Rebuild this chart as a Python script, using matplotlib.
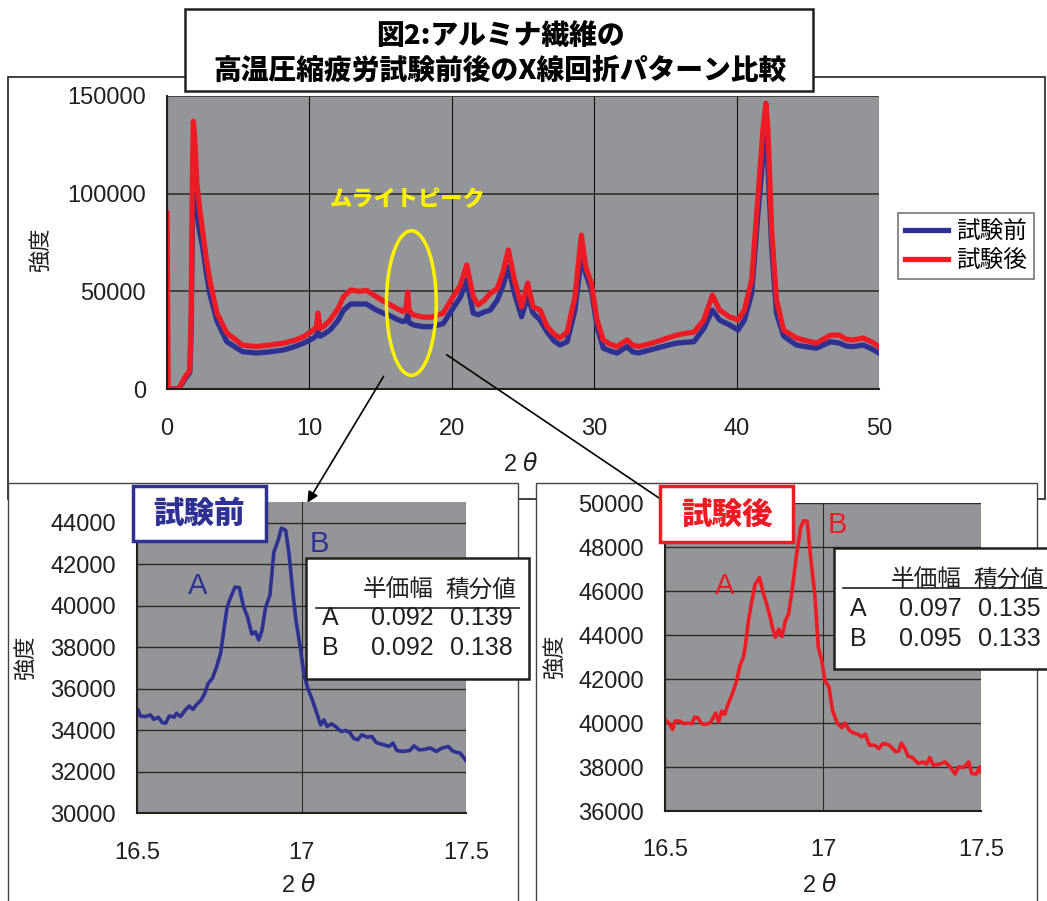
import numpy as np
import matplotlib.pyplot as plt
from matplotlib.patches import Rectangle, Ellipse, FancyArrowPatch
from matplotlib.lines import Line2D

plt.rcParams['font.family'] = ['Liberation Sans', 'Noto Sans CJK JP', 'DejaVu Sans']
plt.rcParams['mathtext.fontset'] = 'dejavusans'

# ---- data: full scan 0-50 deg ----
tt = [0, 0.08, 0.8, 1.0, 1.3, 1.6, 1.7, 1.8, 1.85, 1.95, 2.1, 2.3, 2.5, 2.75, 3.0, 3.5,
      4.2, 5.3, 6.3, 7.2, 8.2, 9.0, 9.6, 10.3, 10.5, 10.6, 10.75, 11.0, 11.45, 12.0,
      12.4, 12.9, 13.5, 14.0, 14.7, 15.2, 15.7, 16.2, 16.6, 16.8, 16.9, 17.0, 17.3,
      18.0, 18.6, 19.4, 20.1, 20.6, 21.05, 21.5, 21.85, 22.3, 22.7, 23.2, 23.6, 23.97,
      24.4, 24.9, 25.33, 25.7, 26.2, 26.7, 27.2, 27.6, 28.1, 28.65, 29.1, 29.4, 29.8,
      30.2, 30.64, 31.1, 31.6, 32.3, 32.7, 33.1, 33.8, 34.4, 35.1, 35.8, 36.4, 37.0,
      37.7, 38.3, 38.8, 39.5, 40.1, 40.55, 41.06, 41.5, 41.85, 42.06, 42.2, 42.46,
      42.8, 43.3, 44.2, 45.0, 45.6, 46.1, 46.6, 47.2, 47.7, 48.2, 48.9, 49.5, 50]
before = [0, 0, 0, 2000, 5500, 8500, 30000, 95000, 112000, 105000, 90000, 80000, 72900,
          60000, 49000, 35000, 24200, 19100, 18400, 19000, 20000, 21800, 23500, 26100,
          27500, 29300, 27000, 28000, 30200, 35000, 40400, 43500, 43500, 43500, 40400,
          38800, 37400, 35500, 34500, 35500, 37900, 34000, 32800, 31900, 31900, 33500,
          41500, 47000, 55800, 38900, 38000, 39500, 40400, 45600, 53000, 62600, 49000,
          37000, 47300, 38900, 35300, 29100, 24500, 22500, 24200, 40400, 67700, 59300,
          50700, 31900, 20900, 19500, 18400, 21700, 19000, 18400, 19800, 20900, 22300,
          23500, 23900, 24200, 31000, 40400, 35300, 32800, 30200, 35300, 49000, 90000,
          118900, 129200, 115000, 72900, 38900, 27100, 22500, 21500, 20900, 22500, 24200,
          23500, 22000, 21700, 22500, 20500, 18400]
after = [90000, 0, 0, 2500, 6500, 9500, 40000, 120000, 137000, 128000, 105000, 92000,
         81000, 67000, 56000, 39000, 28700, 22500, 21700, 22500, 23500, 25000, 26800,
         30200, 32000, 38900, 31000, 32000, 35300, 41000, 47300, 50700, 50000, 50500,
         47300, 45000, 43000, 41000, 39600, 42000, 49700, 40000, 37900, 36800, 36800,
         38900, 47300, 53000, 63500, 47300, 43000, 45500, 49000, 51500, 60000, 71200,
         55800, 42100, 54200, 42100, 40400, 31900, 28000, 26100, 29100, 47300, 78800,
         62600, 54200, 35300, 25100, 23000, 21700, 25100, 22500, 21700, 23000, 24200,
         26000, 27600, 28500, 29100, 35300, 48100, 40400, 36900, 35500, 40400, 55800,
         98500, 132600, 146300, 132600, 81400, 45600, 30200, 26100, 24500, 23500, 25500,
         27600, 27600, 25500, 25100, 26100, 24000, 21700]

# ---- data: zoom 16.5-17.5 deg ----
tt_b = [16.503, 16.510, 16.526, 16.541, 16.551, 16.565, 16.577, 16.587, 16.598, 16.613,
        16.620, 16.632, 16.647, 16.659, 16.670, 16.680, 16.695, 16.706, 16.716, 16.729,
        16.742, 16.754, 16.764, 16.774, 16.783, 16.798, 16.811, 16.824, 16.836, 16.849,
        16.860, 16.870, 16.880, 16.891, 16.904, 16.916, 16.929, 16.939, 16.952, 16.962,
        16.973, 16.983, 16.996, 17.007, 17.019, 17.031, 17.045, 17.058, 17.068, 17.078,
        17.091, 17.106, 17.120, 17.134, 17.147, 17.158, 17.171, 17.183, 17.199, 17.214,
        17.227, 17.240, 17.250, 17.266, 17.278, 17.290, 17.307, 17.329, 17.342, 17.358,
        17.377, 17.391, 17.410, 17.425, 17.446, 17.461, 17.482, 17.500]
int_b = [34970, 34680, 34650, 34730, 34520, 34620, 34360, 34330, 34680, 34620, 34810,
         34650, 34970, 35160, 35000, 35210, 35450, 35770, 36250, 36490, 37050, 37700,
         38820, 39940, 40340, 40900, 40870, 39940, 39460, 38630, 38740, 38340, 38820,
         39940, 40500, 42590, 43150, 43740, 43630, 42510, 40740, 39300, 38020, 36730,
         36010, 35530, 34890, 34250, 34490, 34170, 34300, 34140, 33930, 33980, 33880,
         33610, 33530, 33770, 33660, 33690, 33400, 33330, 33290, 33210, 33370, 33010,
         32970, 33010, 33240, 33040, 33080, 33140, 32970, 33120, 33210, 32970, 32890,
         32530]
tt_a = [16.503, 16.514, 16.524, 16.532, 16.546, 16.560, 16.572, 16.585, 16.594, 16.604,
        16.615, 16.631, 16.645, 16.660, 16.670, 16.679, 16.689, 16.700, 16.713, 16.727,
        16.737, 16.748, 16.755, 16.764, 16.774, 16.785, 16.799, 16.812, 16.822, 16.833,
        16.840, 16.849, 16.860, 16.870, 16.881, 16.891, 16.902, 16.915, 16.929, 16.939,
        16.950, 16.961, 16.974, 16.985, 16.996, 17.006, 17.019, 17.030, 17.046, 17.060,
        17.070, 17.083, 17.096, 17.110, 17.123, 17.134, 17.147, 17.163, 17.177, 17.189,
        17.205, 17.216, 17.230, 17.240, 17.248, 17.259, 17.269, 17.283, 17.301, 17.317,
        17.328, 17.338, 17.349, 17.368, 17.386, 17.402, 17.418, 17.429, 17.445, 17.461,
        17.471, 17.485, 17.496, 17.500]
int_a = [40120, 39970, 39700, 40090, 40090, 39970, 40000, 39970, 40270, 40240, 39970,
         39940, 40040, 40450, 40040, 40540, 40390, 40870, 41330, 41930, 42610, 42990,
         43590, 44650, 45480, 46310, 46610, 45850, 45400, 44800, 44340, 43890, 44270,
         43920, 44650, 44950, 46000, 47510, 48870, 49200, 49170, 47510, 45850, 43440,
         42840, 41930, 41630, 40570, 39970, 39790, 40000, 39670, 39550, 39490, 39370,
         39490, 38990, 38990, 38840, 39060, 39030, 38910, 38690, 38730, 39090, 38840,
         38490, 38430, 38160, 38230, 38130, 38430, 38080, 38130, 38230, 38010, 37680,
         38010, 37980, 38230, 37700, 37680, 38010, 37780]

peaks = ['A', 'B']
fwhm_b = ['0.092', '0.092']
area_b = ['0.139', '0.138']
fwhm_a = ['0.097', '0.095']
area_a = ['0.135', '0.133']

BLUE = '#2e3192'
RED = '#ed1c24'
GRAY = '#939598'
YEL = '#fff200'
INK = '#231f20'
CJK = ['Noto Sans CJK JP', 'DejaVu Sans']

W, H = 1047, 901
fig = plt.figure(figsize=(W / 100, H / 100), dpi=100)


def box(x0, y0, x1, y1):
    return [x0 / W, 1 - y1 / H, (x1 - x0) / W, (y1 - y0) / H]


def P(x, y):
    return (x / W, 1 - y / H)


def rect(x0, y0, x1, y1, ec, lw, z):
    fig.add_artist(Rectangle(P(x0, y1), (x1 - x0) / W, (y1 - y0) / H,
                             transform=fig.transFigure, facecolor='white',
                             edgecolor=ec, lw=lw, zorder=z))


def style(ax, ylab_pad, xlab_pad, fs):
    ax.set_facecolor(GRAY)
    for s in ['top', 'right']:
        ax.spines[s].set_visible(False)
    for s in ['left', 'bottom']:
        ax.spines[s].set_color(INK)
        ax.spines[s].set_linewidth(1.5)
    ax.tick_params(axis='y', length=0, pad=ylab_pad, labelsize=fs, labelcolor=INK)
    ax.tick_params(axis='x', length=0, pad=xlab_pad, labelsize=fs, labelcolor=INK)


# main panel frame
rect(8, 77, 1045, 499, INK, 1.2, 0)

ax = fig.add_axes(box(167, 96, 879, 389), zorder=1)
style(ax, 15, 21, 17)
ax.set_xlim(0, 50)
ax.set_ylim(0, 150000)
ax.set_xticks([0, 10, 20, 30, 40, 50])
ax.set_yticks([0, 50000, 100000, 150000])
ax.grid(axis='y', color='#3a3a3a', lw=1.3)
ax.grid(axis='x', color='#111111', lw=0.8)
ax.set_axisbelow(True)
l1, = ax.plot(tt, before, color=BLUE, lw=3.8, label='試験前')
l2, = ax.plot(tt, after, color=RED, lw=3.8, label='試験後')
ax.add_patch(Ellipse((17.16, 44000), 3.5, 74000, fill=False, edgecolor=YEL, lw=2.5, zorder=5))
ax.text(16.89, 96800, 'ムライトピーク', color=YEL, fontsize=16, fontweight='heavy',
        family=CJK, ha='center', va='center')

fig.text(40 / W, 1 - 250 / H, '強度', rotation=90, fontsize=16, family=CJK,
         ha='center', va='center', color=INK)
fig.text(521 / W, 1 - 465 / H, r'2 $\theta$', fontsize=17, ha='center', va='center', color=INK)

leg = fig.legend([l1, l2], ['試験前', '試験後'], loc='upper left',
                 bbox_to_anchor=P(898, 213), frameon=True, fancybox=False,
                 prop={'family': CJK, 'size': 17}, handlelength=1.8,
                 handletextpad=0.35, borderpad=0.3, labelspacing=0.25,
                 borderaxespad=0)
leg.get_frame().set_edgecolor('#555555')
leg.get_frame().set_linewidth(1.2)
leg.set_zorder(2)

# title
rect(185, 9, 813, 91, INK, 1.8, 6)
fig.text(500 / W, 1 - 36 / H, '図2:アルミナ繊維の', fontsize=20, fontweight='heavy',
         family=CJK, ha='center', va='center', zorder=7)
fig.text(500 / W, 1 - 71 / H, '高温圧縮疲労試験前後のX線回折パターン比較', fontsize=20,
         fontweight='heavy', family=CJK, ha='center', va='center', zorder=7)

# lower panels
rect(8, 483, 518, 910, '#444444', 1.0, 2)
rect(536, 483, 1037, 910, '#444444', 1.0, 2)

ax1 = fig.add_axes(box(137, 502, 466, 813), zorder=3)
style(ax1, 15, 21, 17)
ax1.set_xlim(16.5, 17.5)
ax1.set_ylim(30000, 45000)
ax1.set_xticks([16.5, 17, 17.5])
ax1.set_xticklabels(['16.5', '17', '17.5'])
ax1.set_yticks(np.arange(30000, 44001, 2000))
ax1.grid(axis='y', color='#2a2a2a', lw=1.0)
ax1.grid(axis='x', color='#2a2a2a', lw=0.8)
ax1.set_axisbelow(True)
ax1.plot(tt_b, int_b, color=BLUE, lw=2.6)
ax1.text(16.685, 40970, 'A', color=BLUE, fontsize=21, ha='center', va='center')
ax1.text(17.053, 42990, 'B', color=BLUE, fontsize=21, ha='center', va='center')

ax2 = fig.add_axes(box(665, 503, 981, 811), zorder=3)
style(ax2, 15, 20, 17)
ax2.set_xlim(16.5, 17.5)
ax2.set_ylim(36000, 50000)
ax2.set_xticks([16.5, 17, 17.5])
ax2.set_xticklabels(['16.5', '17', '17.5'])
ax2.set_yticks(np.arange(36000, 50001, 2000))
ax2.grid(axis='y', color='#2a2a2a', lw=1.0)
ax2.grid(axis='x', color='#2a2a2a', lw=0.8)
ax2.set_axisbelow(True)
ax2.plot(tt_a, int_a, color=RED, lw=2.6)
ax2.text(16.689, 46230, 'A', color=RED, fontsize=21, ha='center', va='center')
ax2.text(17.046, 49020, 'B', color=RED, fontsize=21, ha='center', va='center')

for x, y in [(25, 658), (554, 657)]:
    fig.text(x / W, 1 - y / H, '強度', rotation=90, fontsize=16, family=CJK,
             ha='center', va='center', color=INK, zorder=4)
for x, y in [(299, 886), (820, 885)]:
    fig.text(x / W, 1 - y / H, r'2 $\theta$', fontsize=17, ha='center', va='center',
             color=INK, zorder=4)

# result tables
rect(306, 558, 529, 679, INK, 1.8, 5)
rect(834, 548, 1052, 669, INK, 1.8, 5)
tables = [((330, 402, 481), (590, 618, 648), (316, 519, 608), fwhm_b, area_b),
          ((858, 930, 1009), (580, 609, 639), (843, 1047, 588), fwhm_a, area_a)]
for xs, ys, ln, fw, ar in tables:
    fig.text(xs[1] / W - 0.004, 1 - ys[0] / H, '半価幅', fontsize=17, family=CJK,
             ha='center', va='center', color=INK, zorder=6)
    fig.text(xs[2] / W, 1 - ys[0] / H, '積分値', fontsize=17, family=CJK,
             ha='center', va='center', color=INK, zorder=6)
    fig.add_artist(Line2D([ln[0] / W, ln[1] / W], [1 - ln[2] / H] * 2,
                          transform=fig.transFigure, color=INK, lw=1.2, zorder=6))
    for i in range(2):
        fig.text(xs[0] / W, 1 - ys[i + 1] / H, peaks[i], fontsize=18, ha='center',
                 va='center', color=INK, zorder=6)
        fig.text(xs[1] / W, 1 - ys[i + 1] / H, fw[i], fontsize=18, ha='center',
                 va='center', color=INK, zorder=6)
        fig.text(xs[2] / W, 1 - ys[i + 1] / H, ar[i], fontsize=18, ha='center',
                 va='center', color=INK, zorder=6)

# connector lines
fig.add_artist(FancyArrowPatch(P(385, 374), P(306, 505), transform=fig.transFigure,
                               arrowstyle='-|>', mutation_scale=16, lw=1.2,
                               color='black', zorder=8))
fig.add_artist(Line2D([447 / W, 659 / W], [1 - 355 / H, 1 - 498 / H],
                      transform=fig.transFigure, color='black', lw=1.2, zorder=8))

# panel tags
rect(133, 486, 266, 541, BLUE, 2.5, 9)
fig.text(199.5 / W, 1 - 513 / H, '試験前', color=BLUE, fontsize=22, fontweight='heavy',
         family=CJK, ha='center', va='center', zorder=10)
rect(660, 486, 793, 542, RED, 2.5, 9)
fig.text(726.5 / W, 1 - 514 / H, '試験後', color=RED, fontsize=22, fontweight='heavy',
         family=CJK, ha='center', va='center', zorder=10)

fig.savefig('out.png', dpi=100)
